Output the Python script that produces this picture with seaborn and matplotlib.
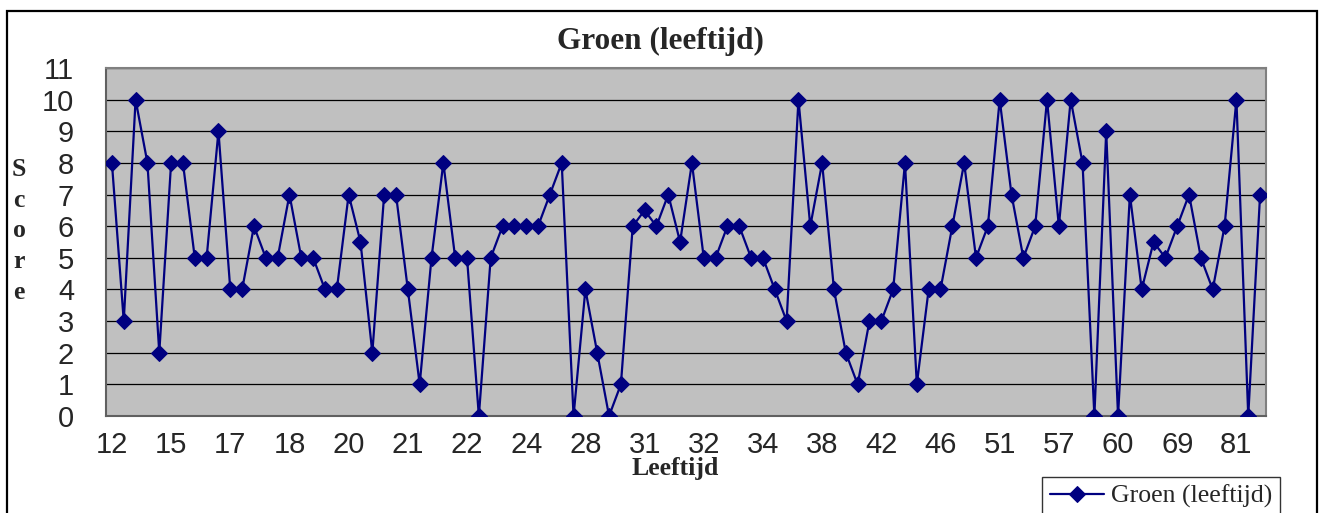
import numpy as np
import pandas as pd
import matplotlib
matplotlib.use("Agg")
import matplotlib.pyplot as plt
import seaborn as sns

# =========================
# DATA
# =========================
scores = [
    8, 3, 10, 8, 2, 8, 8, 5, 5, 9,
    4, 4, 6, 5, 5, 7, 5, 5, 4, 4,
    7, 5.5, 2, 7, 7, 4, 1, 5, 8, 5,
    5, 0, 5, 6, 6, 6, 6, 7, 8, 0,
    4, 2, 0, 1, 6, 6.5, 6, 7, 5.5, 8,
    5, 5, 6, 6, 5, 5, 4, 3, 10, 6,
    8, 4, 2, 1, 3, 3, 4, 8, 1, 4,
    4, 6, 8, 5, 6, 10, 7, 5, 6, 10,
    6, 10, 8, 0, 9, 0, 7, 4, 5.5, 5,
    6, 7, 5, 4, 6, 10, 0, 7,
]
tick_labels = ["12", "15", "17", "18", "20", "21", "22", "24", "28", "31",
               "32", "34", "38", "42", "46", "51", "57", "60", "69", "81"]
label_step = 5

title = "Groen (leeftijd)"
series_name = "Groen (leeftijd)"

df = pd.DataFrame({"idx": np.arange(len(scores)), "score": scores})

NAVY = "#000080"
GRAY_BG = "#C0C0C0"
SERIF = ["Liberation Serif", "DejaVu Serif"]
SANS = ["Liberation Sans", "DejaVu Sans"]

sns.set_style("white")
plt.rcParams["font.family"] = SANS

fig = plt.figure(figsize=(13.22, 5.13), dpi=100)
ax = fig.add_axes([106 / 1322, 1 - 416 / 513, (1266 - 106) / 1322, (416 - 68) / 513])
ax.set_facecolor(GRAY_BG)

sns.lineplot(data=df, x="idx", y="score", ax=ax, color=NAVY, linewidth=1.6,
             marker="D", markersize=8.5, markeredgecolor=NAVY, label=series_name,
             legend=False, zorder=3)

n = len(scores)
ax.set_xlim(-0.5, n - 0.5)
ax.set_ylim(0, 11)
ax.set_yticks(range(0, 12))
ax.yaxis.grid(True, color="black", linewidth=0.9)
ax.xaxis.grid(False)
ax.set_axisbelow(True)

ax.set_xticks(np.arange(0, n, label_step)[:len(tick_labels)])
ax.set_xticklabels(tick_labels)
ax.set_xticks(np.arange(-0.5, n, 1), minor=True)
ax.tick_params(axis="x", which="major", length=0, labelsize=21, pad=11)
ax.tick_params(axis="x", which="minor", length=6, width=1, color="#404040", direction="out")
ax.tick_params(axis="y", length=9, width=1, color="#404040", direction="out", labelsize=21, pad=14)
ax.set_xlabel("")
ax.set_ylabel("")

for side in ["top", "right"]:
    ax.spines[side].set_color("#808080")
    ax.spines[side].set_linewidth(1.5)
for side in ["left", "bottom"]:
    ax.spines[side].set_color("#606060")
    ax.spines[side].set_linewidth(1.5)
    ax.spines[side].set_visible(True)

fig.text(660 / 1322, 1 - 41 / 513, title, ha="center", va="center",
         fontsize=22.5, fontweight="bold", family=SERIF)
fig.text(675 / 1322, 1 - 468 / 513, "Leeftijd", ha="center", va="center",
         fontsize=18.5, fontweight="bold", family=SERIF)
fig.text(19 / 1322, 1 - 231 / 513, "S\nc\no\nr\ne", ha="center", va="center",
         fontsize=18.5, fontweight="bold", family=SERIF, linespacing=1.42)

# outer frame
fig.patches.append(plt.Rectangle((7 / 1322, -0.02), (1317 - 7) / 1322, 1 - 11 / 513 + 0.02,
                                 transform=fig.transFigure, fill=False,
                                 edgecolor="black", linewidth=1.6))

leg = fig.legend(handles=ax.get_lines()[:1], labels=[series_name],
                 loc="upper left", bbox_to_anchor=(1042 / 1322, 1 - 477 / 513),
                 frameon=True, fancybox=False, edgecolor="black",
                 prop={"family": SERIF, "size": 18.5}, handlelength=2.1,
                 borderpad=0.3, handletextpad=0.3, borderaxespad=0)
leg.get_frame().set_linewidth(1)

fig.savefig("out.png", dpi=100)
